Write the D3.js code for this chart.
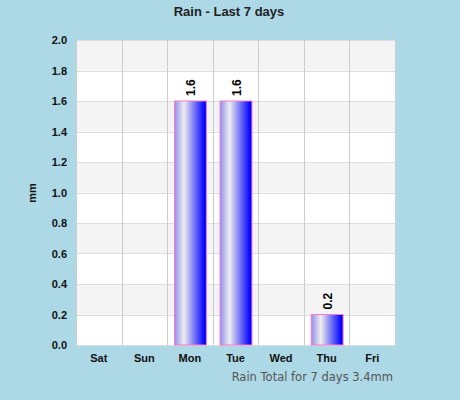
<!DOCTYPE html>
<html><head><meta charset="utf-8">
<script src="https://cdn.jsdelivr.net/npm/d3@7"></script>
<style>body{margin:0;background:#add8e6;}svg{display:block;font-family:"Liberation Sans",Arial,sans-serif;}</style>
</head><body>
<svg id="c" width="460" height="400"></svg>
<script>
const days = ["Sat","Sun","Mon","Tue","Wed","Thu","Fri"];
const rain = [0, 0, 1.6, 1.6, 0, 0.2, 0];
const yTicks = [0,0.2,0.4,0.6,0.8,1.0,1.2,1.4,1.6,1.8,2.0];
const title = "Rain - Last 7 days";
const footer = "Rain Total for 7 days 3.4mm";

const svg = d3.select("#c");
const L=76,R=395,T=40,B=345;
const x = d3.scaleBand().domain(days).range([L,R]).paddingInner(0).paddingOuter(0);
const y = d3.scaleLinear().domain([0,2]).range([B,T]);

const defs = svg.append("defs");
const g = defs.append("linearGradient").attr("id","bg").attr("x1","0%").attr("x2","100%");
g.append("stop").attr("offset","0%").attr("stop-color","#8f8fef");
g.append("stop").attr("offset","30%").attr("stop-color","#eeeeee");
g.append("stop").attr("offset","95%").attr("stop-color","#0000ff");
g.append("stop").attr("offset","100%").attr("stop-color","#0000ff");

svg.append("rect").attr("x",L).attr("y",T).attr("width",R-L).attr("height",B-T).attr("fill","#fff");
for(let i=0;i<yTicks.length-1;i++){
  const a=yTicks[i], b=yTicks[i+1];
  if(i%2===1) svg.append("rect").attr("x",L).attr("y",y(b)).attr("width",R-L).attr("height",y(a)-y(b)).attr("fill","#f4f4f4");
}
svg.selectAll(".hg").data(yTicks).enter().append("line")
  .attr("x1",L).attr("x2",R).attr("y1",d=>Math.round(y(d))+0.5).attr("y2",d=>Math.round(y(d))+0.5)
  .attr("stroke","#dddddd");
svg.selectAll(".vg").data(days).enter().append("line")
  .attr("x1",d=>Math.round(x(d))+0.5).attr("x2",d=>Math.round(x(d))+0.5).attr("y1",T).attr("y2",B)
  .attr("stroke","#cccccc");
svg.append("line").attr("x1",R+0.5).attr("x2",R+0.5).attr("y1",T).attr("y2",B).attr("stroke","#cccccc");

const bw = x.bandwidth()*0.7;
const barData = days.map((d,i)=>({d,v:rain[i]})).filter(o=>o.v>0);
svg.selectAll(".bar").data(barData).enter().append("rect")
  .attr("x",o=>x(o.d)+(x.bandwidth()-bw)/2+0.5).attr("y",o=>y(o.v)).attr("width",bw).attr("height",o=>B-y(o.v))
  .attr("fill","url(#bg)").attr("stroke","#ff77cc").attr("stroke-width",1);

svg.selectAll(".vl").data(barData).enter().append("text")
  .attr("transform",o=>`translate(${x(o.d)+x.bandwidth()/2+5},${y(o.v)-5}) rotate(-90)`)
  .attr("font-size",12).attr("font-weight","bold").attr("fill","#000")
  .text(o=>o.v.toFixed(1));

svg.selectAll(".yl").data(yTicks).enter().append("text")
  .attr("x",67).attr("y",d=>y(d)+4).attr("text-anchor","end")
  .attr("font-size",11).attr("font-weight","bold").attr("fill","#111").text(d=>d.toFixed(1));
svg.selectAll(".xl").data(days).enter().append("text")
  .attr("x",d=>x(d)+x.bandwidth()/2).attr("y",362).attr("text-anchor","middle")
  .attr("font-size",11).attr("font-weight","bold").attr("fill","#111").text(d=>d);

svg.append("text").attr("transform","translate(36,193) rotate(-90)").attr("text-anchor","middle")
  .attr("font-size",11).attr("font-weight","bold").attr("fill","#111").text("mm");
svg.append("text").attr("x",229).attr("y",16).attr("text-anchor","middle")
  .attr("font-size",13).attr("font-weight","bold").attr("fill","#222").text(title);
svg.append("text").attr("x",393).attr("y",381).attr("text-anchor","end")
  .attr("font-family","DejaVu Sans").attr("font-size",11.5).attr("fill","#555").text(footer);
</script>
</body></html>
